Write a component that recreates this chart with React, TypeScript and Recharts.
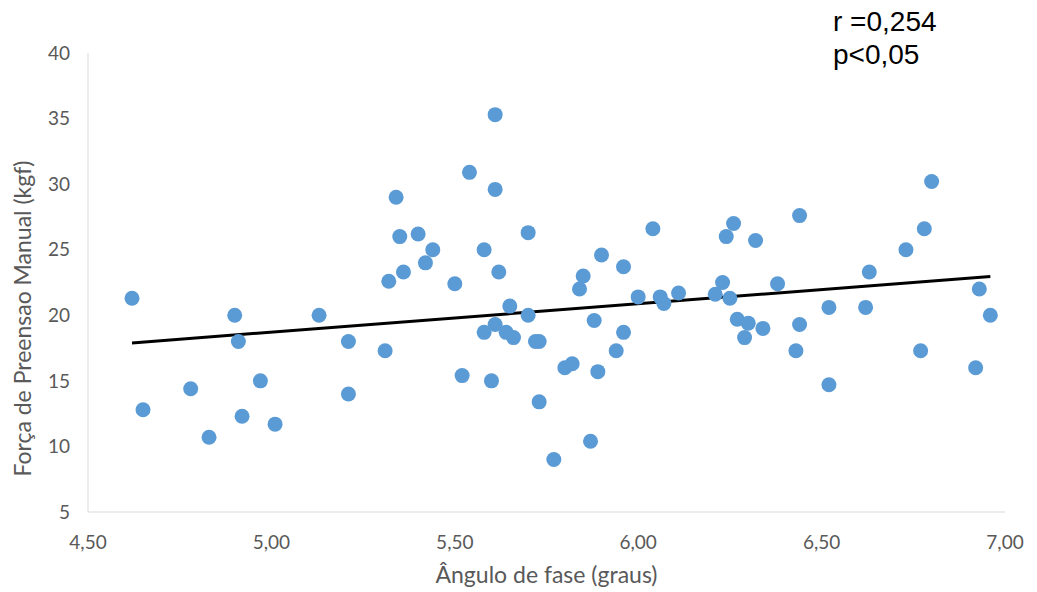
import { ScatterChart, Scatter, XAxis, YAxis, ReferenceLine } from 'recharts'

// Ângulo de fase (graus) de cada participante
const faseAngulo = [
  4.62, 4.65, 4.78, 4.83, 4.9, 4.91, 4.92, 4.97, 5.01, 5.13,
  5.21, 5.21, 5.31, 5.32, 5.34, 5.35, 5.36, 5.4, 5.42, 5.44,
  5.5, 5.52, 5.54, 5.58, 5.58, 5.6, 5.61, 5.61, 5.61, 5.62,
  5.64, 5.65, 5.66, 5.7, 5.7, 5.72, 5.73, 5.73, 5.77, 5.8,
  5.82, 5.84, 5.85, 5.87, 5.88, 5.89, 5.9, 5.94, 5.96, 5.96,
  6.0, 6.04, 6.06, 6.07, 6.11, 6.21, 6.23, 6.24, 6.26, 6.25,
  6.27, 6.29, 6.3, 6.32, 6.34, 6.38, 6.43, 6.44, 6.44, 6.52,
  6.52, 6.62, 6.63, 6.73, 6.77, 6.78, 6.8, 6.92, 6.93, 6.96,
]

// Força de preensão manual (kgf), mesma ordem
const forcaPreensao = [
  21.3, 12.8, 14.4, 10.7, 20.0, 18.0, 12.3, 15.0, 11.7, 20.0,
  18.0, 14.0, 17.3, 22.6, 29.0, 26.0, 23.3, 26.2, 24.0, 25.0,
  22.4, 15.4, 30.9, 25.0, 18.7, 15.0, 29.6, 35.3, 19.3, 23.3,
  18.7, 20.7, 18.3, 26.3, 20.0, 18.0, 18.0, 13.4, 9.0, 16.0,
  16.3, 22.0, 23.0, 10.4, 19.6, 15.7, 24.6, 17.3, 18.7, 23.7,
  21.4, 26.6, 21.4, 20.9, 21.7, 21.6, 22.5, 26.0, 27.0, 21.3,
  19.7, 18.3, 19.4, 25.7, 19.0, 22.4, 17.3, 19.3, 27.6, 20.6,
  14.7, 20.6, 23.3, 25.0, 17.3, 26.6, 30.2, 16.0, 22.0, 20.0,
]

const xTicks = [4.5, 5, 5.5, 6, 6.5, 7]
const yTicks = [5, 10, 15, 20, 25, 30, 35, 40]

const pontos = faseAngulo.map((x, i) => ({ x, y: forcaPreensao[i] }))

// reta de mínimos quadrados
const n = pontos.length
const mx = faseAngulo.reduce((s, v) => s + v, 0) / n
const my = forcaPreensao.reduce((s, v) => s + v, 0) / n
let sxy = 0
let sxx = 0
pontos.forEach((p) => {
  sxy += (p.x - mx) * (p.y - my)
  sxx += (p.x - mx) * (p.x - mx)
})
const slope = sxy / sxx
const intercept = my - slope * mx
const xMin = Math.min(...faseAngulo)
const xMax = Math.max(...faseAngulo)

const tickFont = { fill: '#595959', fontSize: 19, fontFamily: 'Lato, sans-serif' }
const fmt = (v: number) => v.toFixed(2).replace('.', ',')

export default function App() {
  return (
    <div style={{ position: 'absolute', left: 0, top: 0, width: 1037, height: 592, background: '#fff' }}>
      <ScatterChart width={1037} height={592} margin={{ top: 53, right: 32, bottom: 0, left: 0 }}>
        <XAxis
          type="number"
          dataKey="x"
          domain={[4.5, 7]}
          ticks={xTicks}
          tickFormatter={fmt}
          height={80}
          stroke="#d9d9d9"
          tickLine={false}
          tickSize={0}
          tickMargin={24}
          tick={tickFont}
          label={{
            value: 'Ângulo de fase (graus)',
            position: 'insideBottom',
            offset: 9,
            fill: '#595959',
            fontSize: 23,
            fontFamily: 'Lato, sans-serif',
          }}
        />
        <YAxis
          type="number"
          dataKey="y"
          domain={[5, 40]}
          ticks={yTicks}
          width={88}
          stroke="#d9d9d9"
          tickLine={false}
          tickSize={0}
          tickMargin={18}
          tick={tickFont}
          label={({ viewBox }: any) => {
            const cx = viewBox.x + 22
            const cy = viewBox.y + viewBox.height / 2 + 36
            return (
              <text
                x={cx}
                y={cy}
                transform={`rotate(-90, ${cx}, ${cy})`}
                textAnchor="middle"
                dominantBaseline="central"
                fill="#595959"
                fontSize={23}
                fontFamily="Lato, sans-serif"
              >
                Força de Preensao Manual (kgf)
              </text>
            )
          }}
        />
        <Scatter
          data={pontos}
          isAnimationActive={false}
          shape={(p: any) => <circle cx={p.cx} cy={p.cy} r={7.5} fill="#5b9bd5" />}
        />
        <ReferenceLine
          segment={[
            { x: xMin, y: intercept + slope * xMin },
            { x: xMax, y: intercept + slope * xMax },
          ]}
          stroke="#000"
          strokeWidth={3}
        />
      </ScatterChart>
      <div
        style={{
          position: 'absolute',
          left: 833,
          top: 5,
          fontFamily: '"Liberation Sans", Arial, sans-serif',
          fontSize: 28,
          lineHeight: '33px',
          color: '#000',
        }}
      >
        <div>r =0,254</div>
        <div>p&lt;0,05</div>
      </div>
    </div>
  )
}
